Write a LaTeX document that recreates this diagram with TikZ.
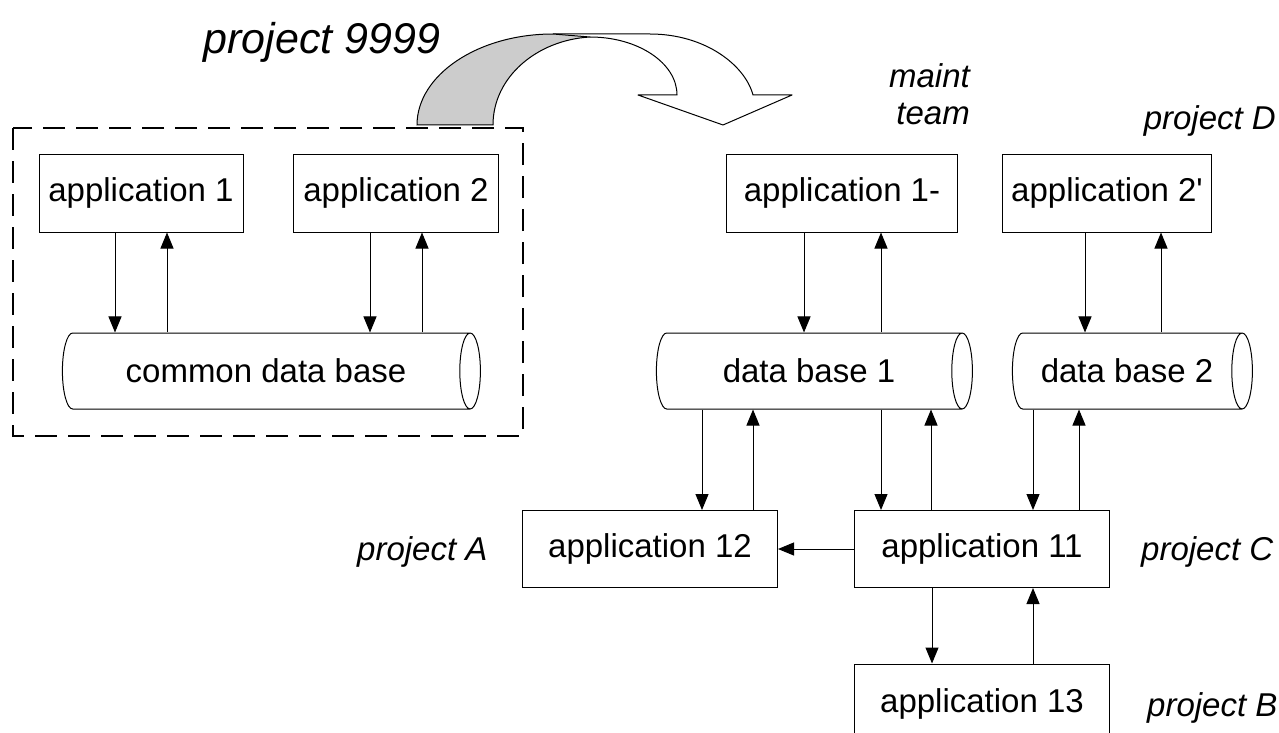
\documentclass[tikz,border=0pt]{standalone}
\usepackage{fontspec}
\setmainfont{Liberation Sans}
\usetikzlibrary{shapes.geometric, arrows.meta, positioning}

\tikzset{
    app/.style={draw, line width=1pt, minimum height=78pt, inner sep=0pt, font=\fontsize{33}{37}\selectfont},
    dbase/.style={draw, cylinder, line width=1pt, aspect=0.85, minimum width=76pt, inner sep=0pt, font=\fontsize{33}{37}\selectfont},
    tag/.style={inner sep=0pt, font=\fontsize{33}{37}\selectfont\itshape},
    flow/.style={-{Triangle[length=16pt,width=13pt]}, line width=1pt},
}

\begin{document}
\begin{tikzpicture}[x=1pt, y=-1pt]
    \useasboundingbox (0,0) rectangle (1279,733);
    \clip (0,0) rectangle (1279,733);

    % Old system
    \draw[line width=1.2pt, dash pattern=on 22pt off 11pt] (13,128) rectangle (523,436);
    \node[app, minimum width=204pt] (app1) at (141,193) {application 1};
    \node[app, minimum width=205pt] (app2) at (396,193) {application 2};
    \node[dbase, minimum height=418pt] (cdb) at (266,371) {common data base};

    % New systems
    \node[app, minimum width=231pt] (app1m) at (842,193) {application 1-};
    \node[app, minimum width=209pt] (app2p) at (1107,193) {application 2\textquotesingle};
    \node[dbase, minimum height=316pt] (db1) at (809,371) {data base 1};
    \node[dbase, minimum height=240pt] (db2) at (1127,371) {data base 2};
    \node[app, minimum width=255pt, minimum height=77pt] (app12) at (650,549) {application 12};
    \node[app, minimum width=255pt, minimum height=77pt] (app11) at (982,549) {application 11};
    \node[app, minimum width=255pt, minimum height=80pt] (app13) at (982,704) {application 13};

    % Labels
    \node[tag, anchor=base, font=\fontsize{43}{48}\selectfont\itshape] (p9999) at (322,54) {project 9999};
    \node[tag, anchor=east, align=right] (maint) at (970,94) {maint\\team};
    \node[tag, anchor=base east] (pD) at (1276,130) {project D};
    \node[tag, anchor=base west] (pA) at (357,560) {project A};
    \node[tag, anchor=base west] (pC) at (1141,560) {project C};
    \node[tag, anchor=base west] (pB) at (1147,716) {project B};

    % Curved arrow
    \draw[line width=1pt, line join=round] (553,34) -- (650,34) .. controls (705,34) and (745,65) .. (753,95)
        -- (792,95) -- (723,125) -- (638,95) -- (677,95) .. controls (677,63) and (638,37) .. (590,37);
    \filldraw[fill=gray!40, line width=1pt] (417,125) .. controls (417,75) and (478,34) .. (553,34) -- (590,37)
        .. controls (537,40) and (493,77) .. (493,125) -- cycle;

    % Arrows
    \draw[flow] (app1.south -| 115,0) -- (cdb.north -| 115,0);
    \draw[flow] (cdb.north -| 167,0) -- (app1.south -| 167,0);
    \draw[flow] (app2.south -| 370,0) -- (cdb.north -| 370,0);
    \draw[flow] (cdb.north -| 422,0) -- (app2.south -| 422,0);
    \draw[flow] (app1m.south -| 804,0) -- (db1.north -| 804,0);
    \draw[flow] (db1.north -| 881,0) -- (app1m.south -| 881,0);
    \draw[flow] (app2p.south -| 1085,0) -- (db2.north -| 1085,0);
    \draw[flow] (db2.north -| 1161,0) -- (app2p.south -| 1161,0);
    \draw[flow] (db1.south -| 702,0) -- (app12.north -| 702,0);
    \draw[flow] (app12.north -| 753,0) -- (db1.south -| 753,0);
    \draw[flow] (db1.south -| 881,0) -- (app11.north -| 881,0);
    \draw[flow] (app11.north -| 931,0) -- (db1.south -| 931,0);
    \draw[flow] (db2.south -| 1033,0) -- (app11.north -| 1033,0);
    \draw[flow] (app11.north -| 1079,0) -- (db2.south -| 1079,0);
    \draw[flow] (app11.south -| 932,0) -- (app13.north -| 932,0);
    \draw[flow] (app13.north -| 1033,0) -- (app11.south -| 1033,0);
    \draw[flow] (app11) -- (app12);
\end{tikzpicture}
\end{document}
